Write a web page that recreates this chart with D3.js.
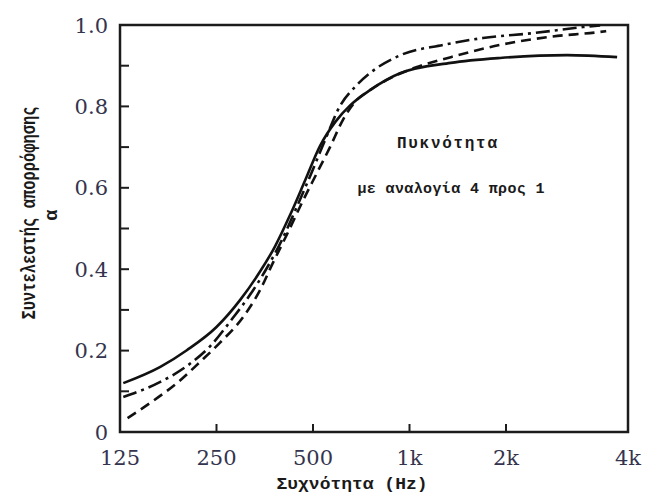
<!DOCTYPE html>
<html>
<head>
<meta charset="utf-8">
<script src="https://cdn.jsdelivr.net/npm/d3@7"></script>
<style>
  body { margin: 0; background: #fff; }
  svg { display: block; }
  .tick-label { font-family: "DejaVu Serif", serif; font-size: 21px; fill: #34344e; }
  .mono { font-family: "Liberation Mono", "DejaVu Sans Mono", monospace; font-weight: bold; fill: #1a1a1a; }
</style>
</head>
<body>
<div id="chart"></div>
<script>
// values (frequency in Hz, absorption coefficient)
const freqTicks = [125, 250, 500, 1000, 2000, 4000];
const freqLabels = ["125", "250", "500", "1k", "2k", "4k"];
const alphaTicks = [0, 0.2, 0.4, 0.6, 0.8, 1.0];
const alphaLabels = ["0", "0.2", "0.4", "0.6", "0.8", "1.0"];

const solidFreq = [128, 167, 202, 250, 296, 341, 380, 424, 473, 526, 587, 654, 753, 938, 1345, 1916, 2829, 3760];
const solidAlpha = [0.12, 0.16, 0.201, 0.258, 0.324, 0.393, 0.455, 0.533, 0.619, 0.703, 0.762, 0.803, 0.84, 0.882, 0.907, 0.919, 0.926, 0.921];

const dashFreq = [132, 155, 188, 222, 256, 303, 342, 372, 415, 465, 514, 565, 620, 676, 753, 827, 1055, 1345, 1916, 2568, 3414, 3534];
const dashAlpha = [0.034, 0.071, 0.12, 0.172, 0.219, 0.283, 0.349, 0.41, 0.486, 0.568, 0.636, 0.7, 0.767, 0.811, 0.84, 0.86, 0.897, 0.921, 0.951, 0.971, 0.983, 0.985];

const dotFreq = [128, 167, 202, 239, 281, 318, 359, 400, 445, 496, 545, 607, 676, 753, 938, 1272, 1694, 2332, 3097, 3414];
const dotAlpha = [0.086, 0.123, 0.162, 0.211, 0.28, 0.337, 0.403, 0.472, 0.553, 0.639, 0.717, 0.801, 0.848, 0.882, 0.926, 0.951, 0.968, 0.98, 0.995, 0.999];

const titleX = "Συχνότητα (Hz)";
const titleY = "Συντελεστής απορρόφησης";
const noteLines = ["Πυκνότητα", "με αναλογία 4 προς 1"];

const W = 649, H = 497;
const plotLeft = 120, plotRight = 628, plotTop = 25, plotBottom = 432;

const svg = d3.select("#chart").append("svg")
  .attr("width", W).attr("height", H);

// the last octave of the original axis is drawn wider than the others
const x = d3.scaleLog().domain([125, 2000, 4000]).range([plotLeft, 506, plotRight]);
const y = d3.scaleLinear().domain([0, 1]).range([plotBottom, plotTop]);

// frame
svg.append("rect")
  .attr("x", plotLeft).attr("y", plotTop)
  .attr("width", plotRight - plotLeft).attr("height", plotBottom - plotTop)
  .attr("fill", "none").attr("stroke", "#1c1c1c").attr("stroke-width", 2.5);

// inner ticks on the left side, every 0.1
svg.append("g").selectAll("line")
  .data(d3.range(1, 10).map(d => d / 10))
  .join("line")
  .attr("x1", plotLeft).attr("x2", plotLeft + 9)
  .attr("y1", d => y(d)).attr("y2", d => y(d))
  .attr("stroke", "#1c1c1c").attr("stroke-width", 2);

// inner ticks on the bottom
svg.append("g").selectAll("line")
  .data(freqTicks.slice(1, -1))
  .join("line")
  .attr("x1", d => x(d)).attr("x2", d => x(d))
  .attr("y1", plotBottom).attr("y2", plotBottom - 8)
  .attr("stroke", "#1c1c1c").attr("stroke-width", 2);

// tick labels
svg.append("g").selectAll("text")
  .data(alphaTicks)
  .join("text")
  .attr("class", "tick-label")
  .attr("x", 108).attr("y", d => y(d))
  .attr("dy", "0.36em")
  .attr("text-anchor", "end")
  .text((d, i) => alphaLabels[i]);

svg.append("g").selectAll("text")
  .data(freqTicks)
  .join("text")
  .attr("class", "tick-label")
  .attr("x", d => x(d)).attr("y", 465)
  .attr("text-anchor", "middle")
  .text((d, i) => freqLabels[i]);

// curves
const curves = [
  { f: solidFreq, a: solidAlpha, dash: null },
  { f: dashFreq, a: dashAlpha, dash: "10,6" },
  { f: dotFreq, a: dotAlpha, dash: "14,5,3,5" }
];

const line = d3.line()
  .x(d => x(d[0]))
  .y(d => y(d[1]))
  .curve(d3.curveMonotoneX);

svg.append("g").selectAll("path")
  .data(curves)
  .join("path")
  .attr("d", c => line(c.f.map((f, i) => [f, c.a[i]])))
  .attr("fill", "none")
  .attr("stroke", "#111")
  .attr("stroke-width", 2.6)
  .attr("stroke-dasharray", c => c.dash);

// note inside plot
svg.append("text").attr("class", "mono")
  .attr("x", 447).attr("y", 148)
  .attr("text-anchor", "middle")
  .attr("font-size", 16)
  .attr("textLength", 100).attr("lengthAdjust", "spacing")
  .text(noteLines[0]);

svg.append("text").attr("class", "mono")
  .attr("x", 451).attr("y", 193)
  .attr("text-anchor", "middle")
  .attr("font-size", 15)
  .attr("textLength", 187).attr("lengthAdjust", "spacing")
  .text(noteLines[1]);

// axis titles
svg.append("text").attr("class", "mono")
  .attr("x", 352).attr("y", 489)
  .attr("text-anchor", "middle")
  .attr("font-size", 16)
  .attr("textLength", 151).attr("lengthAdjust", "spacingAndGlyphs")
  .text(titleX);

svg.append("text").attr("class", "mono")
  .attr("transform", "translate(35,213) rotate(-90)")
  .attr("text-anchor", "middle")
  .attr("font-size", 20)
  .attr("textLength", 213).attr("lengthAdjust", "spacingAndGlyphs")
  .text(titleY);

svg.append("text").attr("class", "mono")
  .attr("transform", "translate(57,215) rotate(-90)")
  .attr("text-anchor", "middle")
  .attr("font-size", 18)
  .text("α");
</script>
</body>
</html>
